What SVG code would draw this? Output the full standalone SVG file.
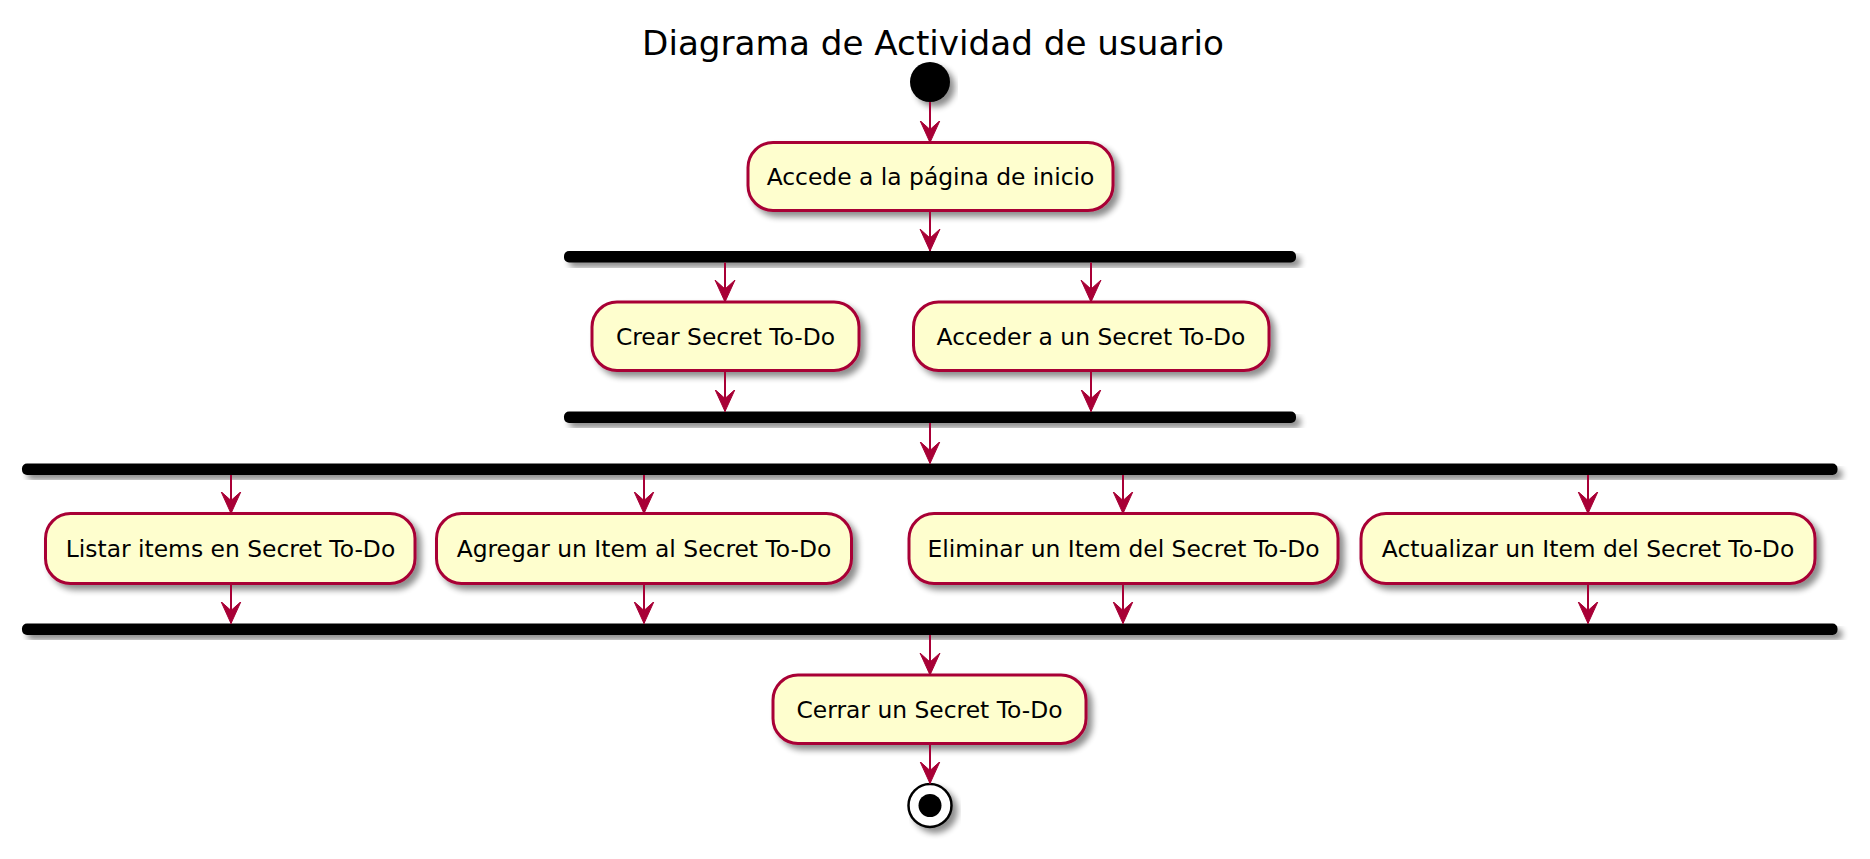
<svg xmlns="http://www.w3.org/2000/svg" width="1870" height="859" viewBox="0 0 1870 859">
<defs>
<filter id="sh" x="-10%" y="-20%" width="130%" height="160%">
<feGaussianBlur in="SourceAlpha" stdDeviation="3" result="b"/>
<feOffset in="b" dx="5" dy="5" result="o"/>
<feComponentTransfer in="o" result="s"><feFuncA type="linear" slope="0.45"/></feComponentTransfer>
<feMerge><feMergeNode in="s"/><feMergeNode in="SourceGraphic"/></feMerge>
</filter>
<marker id="ah" markerUnits="userSpaceOnUse" markerWidth="24" markerHeight="26" refX="22" refY="10" orient="auto" viewBox="0 0 24 20">
<path d="M22,10 L0,0 L9,10 L0,20 Z" fill="#A80036" stroke="#A80036" stroke-width="1" stroke-linejoin="miter"/>
</marker>
</defs>
<style>
.act rect{fill:#FEFECE;stroke:#A80036;stroke-width:3;filter:url(#sh)}
.act text{font-family:"DejaVu Sans",sans-serif;font-size:23.4px;fill:#000;text-anchor:middle}
.bar{fill:#000;filter:url(#sh)}
.conn line{stroke:#A80036;stroke-width:2;marker-end:url(#ah)}
.title{font-family:"DejaVu Sans",sans-serif;font-size:34.2px;fill:#000;text-anchor:middle}
</style>
<rect width="1870" height="859" fill="#FFFFFF"/>
<text class="title" x="933" y="55">Diagrama de Actividad de usuario</text>

<g id="start"><circle cx="930" cy="82" r="20" fill="#000" filter="url(#sh)"/></g>

<g id="n1" class="act"><rect x="748" y="142.5" width="365" height="68" rx="25" ry="25"/><text x="930.5" y="185">Accede a la página de inicio</text></g>

<g id="fork1"><rect class="bar" x="564" y="251" width="732" height="11.5" rx="5" ry="5"/></g>

<g id="n2" class="act"><rect x="592" y="302" width="267" height="68.5" rx="25" ry="25"/><text x="725.5" y="344.5">Crear Secret To-Do</text></g>
<g id="n3" class="act"><rect x="913.5" y="302" width="355.5" height="68.5" rx="25" ry="25"/><text x="1091" y="344.5">Acceder a un Secret To-Do</text></g>

<g id="join1"><rect class="bar" x="564" y="411.5" width="732" height="11.5" rx="5" ry="5"/></g>

<g id="fork2"><rect class="bar" x="22" y="463.5" width="1815.5" height="11.5" rx="5" ry="5"/></g>

<g id="n4" class="act"><rect x="45.5" y="513.5" width="369.5" height="70" rx="25" ry="25"/><text x="230.5" y="557">Listar items en Secret To-Do</text></g>
<g id="n5" class="act"><rect x="436.5" y="513.5" width="415" height="70" rx="25" ry="25"/><text x="644" y="557">Agregar un Item al Secret To-Do</text></g>
<g id="n6" class="act"><rect x="909" y="513.5" width="429" height="70" rx="25" ry="25"/><text x="1123.5" y="557">Eliminar un Item del Secret To-Do</text></g>
<g id="n7" class="act"><rect x="1361" y="513.5" width="454" height="70" rx="25" ry="25"/><text x="1588" y="557">Actualizar un Item del Secret To-Do</text></g>

<g id="join2"><rect class="bar" x="22" y="623.5" width="1815.5" height="11.5" rx="5" ry="5"/></g>

<g id="n8" class="act"><rect x="773" y="675" width="313" height="68.5" rx="25" ry="25"/><text x="929.5" y="717.5">Cerrar un Secret To-Do</text></g>

<g id="stop">
<circle cx="930" cy="805.5" r="21.5" fill="#FFFFFF" stroke="#000" stroke-width="2.5" filter="url(#sh)"/>
<circle cx="930" cy="805.5" r="11.5" fill="#000"/>
</g>

<g id="connectors" class="conn">
<line x1="930" y1="102" x2="930" y2="142.5"/>
<line x1="930" y1="211" x2="930" y2="251"/>
<line x1="725" y1="262.5" x2="725" y2="302"/>
<line x1="1091" y1="262.5" x2="1091" y2="302"/>
<line x1="725" y1="371" x2="725" y2="411.5"/>
<line x1="1091" y1="371" x2="1091" y2="411.5"/>
<line x1="930" y1="423" x2="930" y2="463.5"/>
<line x1="231" y1="475" x2="231" y2="513.5"/>
<line x1="644" y1="475" x2="644" y2="513.5"/>
<line x1="1123" y1="475" x2="1123" y2="513.5"/>
<line x1="1588" y1="475" x2="1588" y2="513.5"/>
<line x1="231" y1="584" x2="231" y2="623.5"/>
<line x1="644" y1="584" x2="644" y2="623.5"/>
<line x1="1123" y1="584" x2="1123" y2="623.5"/>
<line x1="1588" y1="584" x2="1588" y2="623.5"/>
<line x1="930" y1="635" x2="930" y2="675"/>
<line x1="930" y1="744" x2="930" y2="783.5"/>
</g>
</svg>
